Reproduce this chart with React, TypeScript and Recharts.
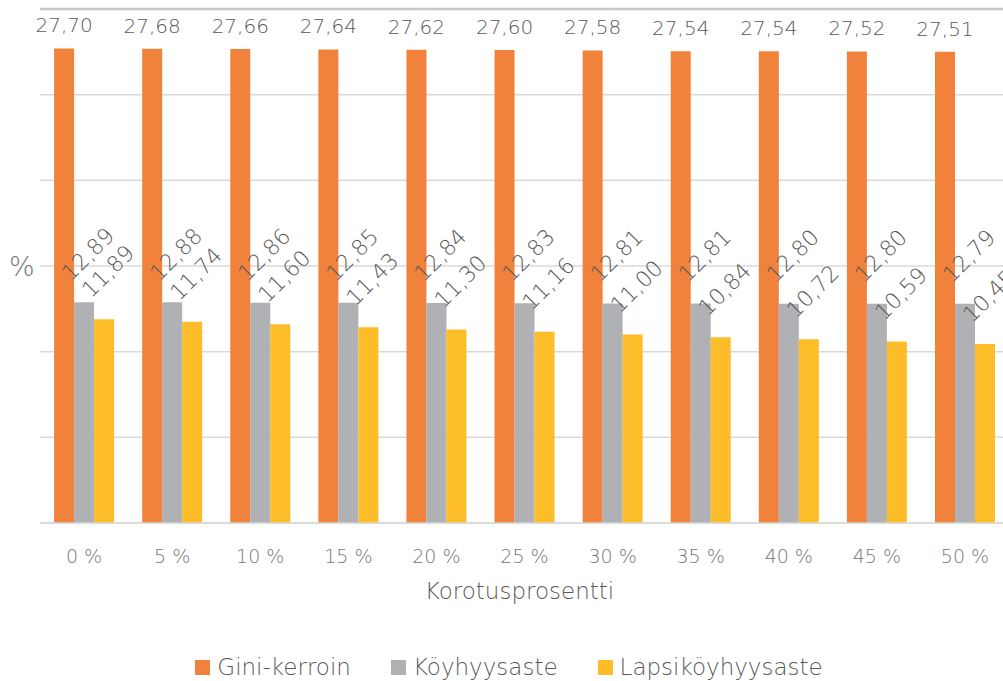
import { Bar, BarChart, CartesianGrid, LabelList, Legend, ReferenceLine, XAxis, YAxis } from 'recharts';

const categories = ['0 %', '5 %', '10 %', '15 %', '20 %', '25 %', '30 %', '35 %', '40 %', '45 %', '50 %'];
const gini = [27.7, 27.68, 27.66, 27.64, 27.62, 27.6, 27.58, 27.54, 27.54, 27.52, 27.51];
const poverty = [12.89, 12.88, 12.86, 12.85, 12.84, 12.83, 12.81, 12.81, 12.8, 12.8, 12.79];
const childPoverty = [11.89, 11.74, 11.6, 11.43, 11.3, 11.16, 11.0, 10.84, 10.72, 10.59, 10.45];
const yTicks = [0, 5, 10, 15, 20, 25, 30];

const series = [
  { key: 'gini', name: 'Gini-kerroin', color: '#F0823C' },
  { key: 'poverty', name: 'Köyhyysaste', color: '#B0B1B4' },
  { key: 'child', name: 'Lapsiköyhyysaste', color: '#FDBD29' },
];

const data = categories.map((c, i) => ({
  name: c,
  gini: gini[i],
  poverty: poverty[i],
  child: childPoverty[i],
}));

const FONT = '"DejaVu Sans", sans-serif';
const W = 200;
const fmt = (v: any) => Number(v).toFixed(2).replace('.', ',');

// rotated labels for the two lower series
function SlantLabel(props: any) {
  const { x, y, width, value } = props;
  const cx = x + width / 2 + 4;
  const cy = y - 48;
  return (
    <text
      x={cx}
      y={cy}
      transform={`rotate(-45, ${cx}, ${cy})`}
      textAnchor="middle"
      dominantBaseline="central"
      fill="#595959"
      fontSize={22}
      fontFamily={FONT}
      fontWeight={W}
    >
      {fmt(value)}
    </text>
  );
}

function LegendContent() {
  return (
    <div style={{ display: 'flex', justifyContent: 'center', alignItems: 'center', gap: 40, height: 24, fontFamily: FONT, fontWeight: W, paddingLeft: 7 }}>
      {series.map((s) => (
        <div key={s.key} style={{ display: 'flex', alignItems: 'center' }}>
          <span style={{ width: 15, height: 15, background: s.color, display: 'inline-block', marginRight: 7 }} />
          <span style={{ fontSize: 23, color: '#595959', lineHeight: '24px' }}>{s.name}</span>
        </div>
      ))}
    </div>
  );
}

export default function App() {
  return (
    <div style={{ position: 'absolute', left: 0, top: 0, width: 1003, height: 681, overflow: 'hidden', background: '#fff' }}>
      <BarChart
        width={1011}
        height={681}
        data={data}
        margin={{ top: 9, right: 2, left: 0, bottom: 2 }}
        barCategoryGap="16%"
        barGap={0}
      >
        <CartesianGrid vertical={false} stroke="#D9D9D9" strokeWidth={1.5} />
        <ReferenceLine y={30} stroke="#C8C8C8" strokeWidth={2.5} ifOverflow="visible" />
        <XAxis
          dataKey="name"
          height={132}
          tickLine={false}
          tickSize={0}
          tickMargin={27}
          axisLine={{ stroke: '#D9D9D9', strokeWidth: 1.5 }}
          tick={{ fill: '#767676', fontSize: 19, fontFamily: FONT, fontWeight: W }}
          label={{
            value: 'Korotusprosentti',
            position: 'insideTop',
            offset: 60,
            dx: -5,
            fill: '#595959',
            fontSize: 23,
            fontFamily: FONT,
            fontWeight: W,
          }}
        />
        <YAxis
          width={40}
          domain={[0, 30]}
          ticks={yTicks}
          tick={() => <g />}
          axisLine={false}
          tickLine={false}
          label={{
            value: '%',
            position: 'insideLeft',
            offset: 9,
            fill: '#767676',
            fontSize: 27,
            fontFamily: FONT,
            fontWeight: W,
          }}
        />
        <Legend verticalAlign="bottom" content={<LegendContent />} wrapperStyle={{ left: 0, width: 1011, height: 24 }} />
        <Bar dataKey="gini" name="Gini-kerroin" fill="#F0823C" isAnimationActive={false}>
          <LabelList
            dataKey="gini"
            position="top"
            offset={16}
            formatter={fmt}
            fill="#595959"
            fontSize={20}
            fontFamily={FONT}
            fontWeight={W}
          />
        </Bar>
        <Bar dataKey="poverty" name="Köyhyysaste" fill="#B0B1B4" isAnimationActive={false}>
          <LabelList dataKey="poverty" content={<SlantLabel />} />
        </Bar>
        <Bar dataKey="child" name="Lapsiköyhyysaste" fill="#FDBD29" isAnimationActive={false}>
          <LabelList dataKey="child" content={<SlantLabel />} />
        </Bar>
      </BarChart>
    </div>
  );
}
